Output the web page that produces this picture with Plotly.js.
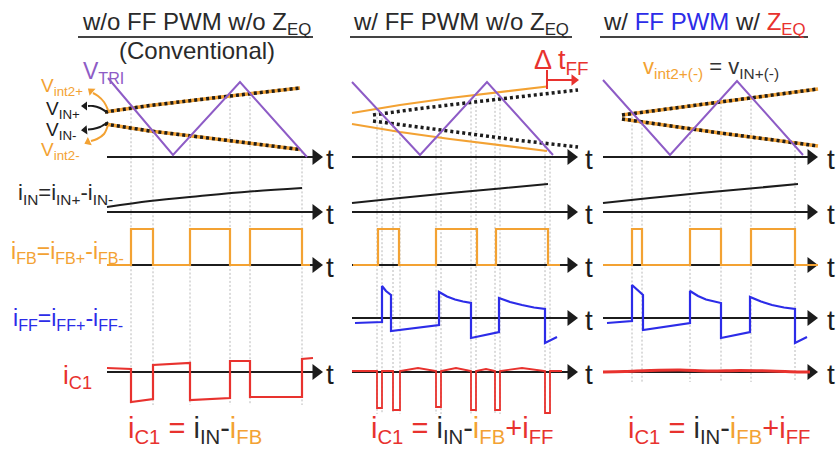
<!DOCTYPE html>
<html><head><meta charset="utf-8">
<script src="https://cdn.plot.ly/plotly-3.0.1.min.js"></script>
<style>html,body{margin:0;padding:0;background:#fff}#chart{width:840px;height:449px}</style>
</head><body><div id="chart"></div>
<script>
// ================= DATA (schematic waveforms) =================
// Panel 1 : w/o FF PWM w/o Z_EQ (Conventional)
const p1TriT  = [108, 173, 240, 307];
const p1TriV  = [78, 155, 82, 157];
const p1VinT  = [105, 150, 200, 250, 300];
const p1VinPV = [112, 105.5, 99.5, 93.5, 88];
const p1VinMV = [124, 131, 137, 143.5, 149.5];
const p1IinT  = [107, 150, 200, 250, 302];
const p1IinV  = [207, 201, 196, 191.5, 188];
const p1Edges = [131, 153, 190, 230, 250, 302];
const p1Ic1T  = [107, 131, 131, 153, 153, 190, 190, 230, 230, 250, 250, 302, 302, 313];
const p1Ic1V  = [368, 369, 402, 399, 365, 363, 400, 398, 361, 361, 397, 397, 359, 358];

// Panel 2 : w/ FF PWM w/o Z_EQ
const p2TriT   = [352, 420, 487, 553];
const p2TriV   = [82, 155, 82, 155];
const p2OrT    = [352, 400, 450, 500, 547];
const p2OrUpV  = [113, 105, 98, 92, 86.5];
const p2OrLoV  = [124, 132, 139, 145.5, 151];
const p2BkT    = [373, 420, 470, 520, 578];
const p2BkUpV  = [115, 108.5, 102.5, 96.5, 90];
const p2BkLoV  = [121, 127.5, 134, 140.5, 147];
const p2IinT   = [352, 400, 450, 500, 548];
const p2IinV   = [203, 198, 193, 188.5, 184];
const p2Edges  = [378, 399, 436, 477, 496, 548];
const p2Guides = [377, 382, 393, 400, 436, 441, 471, 476, 495, 500, 545, 550];
const p2IffT   = [355, 382, 382, 386, 391, 391, 439, 439, 447, 455, 463, 471, 471, 499, 499, 510, 522, 534, 545, 545, 557];
const p2IffV   = [323, 322, 286, 291, 295, 331, 325, 292, 296.5, 299.5, 301.5, 303, 338, 332, 298, 302, 305, 307.5, 309, 343, 337];
const p2Ic1T   = [352, 377, 377, 382, 382, 393, 393, 400, 400, 418, 436, 436, 441, 441, 456, 471, 471, 476, 476, 486, 495, 495, 500, 500, 522, 545, 545, 550, 550, 562];
const p2Ic1V   = [371, 371, 408, 408, 371, 371, 410, 410, 371, 368, 371, 407, 407, 371, 368, 371, 410, 410, 371, 369, 371, 410, 410, 371, 368, 371, 413, 413, 371, 371];

// Panel 3 : w/ FF PWM w/ Z_EQ
const p3TriT  = [603, 670, 737, 803];
const p3TriV  = [80, 155, 81, 155];
const p3VinT  = [622, 670, 720, 770, 818];
const p3VinPV = [115, 108.5, 102, 95.5, 89];
const p3VinMV = [119, 126, 133, 139.5, 146];
const p3IinT  = [603, 650, 700, 750, 798];
const p3IinV  = [203, 198, 193, 188.5, 184];
const p3Edges = [632, 642, 690, 721, 751, 795];
const p3IffT  = [607, 632, 632, 637, 643, 643, 690, 690, 698, 706, 714, 721, 721, 750, 750, 761, 772, 784, 795, 795, 807];
const p3IffV  = [323, 321, 285, 290, 295, 330, 323, 291, 296, 299.5, 301.5, 303, 338, 332, 297, 301.5, 305, 307.5, 309, 343, 337];
const p3Ic1T  = [603, 625, 650, 680, 710, 740, 770, 800, 810];
const p3Ic1V  = [372, 371.5, 370.5, 370, 371, 370.5, 371, 372, 372];

// iFB levels
const fbLow = 265, fbHigh = 229;

// ================= LAYOUT CONSTANTS =================
const FONT = 'Liberation Sans, Arial, sans-serif';
const ORANGE = '#f3a233', PURPLE = '#8e5cc6', BLUE = '#2c2ce8', RED = '#e8322e', BLACK = '#1c1c1c', GRAY = '#b8b8b8', DARK = '#2a2a2a';
const rowY = [157, 212, 265, 318, 372];
const panelAxes = [
  {x0: 107, x1: 316, rows: [0, 1, 2, 4], tX: 330},
  {x0: 352, x1: 571, rows: [0, 1, 2, 3, 4], tX: 589},
  {x0: 603, x1: 811, rows: [0, 1, 2, 3, 4], tX: 831}
];

// ================= HELPERS =================
function interp(xs, ys, x) {
  for (let i = 0; i < xs.length - 1; i++) {
    if (x >= xs[i] && x <= xs[i + 1]) return ys[i] + (ys[i + 1] - ys[i]) * (x - xs[i]) / (xs[i + 1] - xs[i]);
  }
  return x < xs[0] ? ys[0] : ys[ys.length - 1];
}
function ln(x, y, color, width, dash, shape) {
  return {type: 'scatter', mode: 'lines', x: x, y: y, hoverinfo: 'skip', showlegend: false,
          line: {color: color, width: width, dash: dash || 'solid', shape: shape || 'linear'}};
}
function pulse(edges, start, end) {
  const x = [start], y = [fbLow];
  edges.forEach((e, i) => {
    const from = i % 2 === 0 ? fbLow : fbHigh, to = i % 2 === 0 ? fbHigh : fbLow;
    x.push(e, e); y.push(from, to);
  });
  x.push(end); y.push(fbLow);
  return {x, y};
}
function guides(xs, triT, triV, bottom) {
  const X = [], Y = [];
  xs.forEach(g => { X.push(g, g, null); Y.push(interp(triT, triV, g), bottom, null); });
  return ln(X, Y, GRAY, 1, '2px,2px');
}

// ================= TRACES =================
const traces = [];
traces.push(guides(p1Edges, p1TriT, p1TriV, 405));
traces.push(guides(p2Guides, p2TriT, p2TriV, 414));
traces.push(guides(p3Edges, p3TriT, p3TriV, 382));

// axes with arrow heads
const ax = [], ay = [], hx = [], hy = [];
panelAxes.forEach(p => p.rows.forEach(r => { ax.push(p.x0, p.x1, null); ay.push(rowY[r], rowY[r], null); hx.push(p.x1); hy.push(rowY[r]); }));
traces.push(ln(ax, ay, BLACK, 2.2));
traces.push({type: 'scatter', mode: 'markers', x: hx, y: hy, hoverinfo: 'skip', showlegend: false,
             marker: {symbol: 'triangle-right', size: 14, color: BLACK}});

// VIN / Vint2 comparator thresholds
traces.push(ln(p1VinT, p1VinPV, ORANGE, 3.5));
traces.push(ln(p1VinT, p1VinMV, ORANGE, 3.5));
traces.push(ln(p1VinT, p1VinPV, BLACK, 3.5, '3px,3px'));
traces.push(ln(p1VinT, p1VinMV, BLACK, 3.5, '3px,3px'));
traces.push(ln(p2OrT, p2OrUpV, ORANGE, 2.2));
traces.push(ln(p2OrT, p2OrLoV, ORANGE, 2.2));
traces.push(ln(p2BkT, p2BkUpV, BLACK, 3.5, '3px,3px'));
traces.push(ln(p2BkT, p2BkLoV, BLACK, 3.5, '3px,3px'));
traces.push(ln(p3VinT, p3VinPV, ORANGE, 3.5));
traces.push(ln(p3VinT, p3VinMV, ORANGE, 3.5));
traces.push(ln(p3VinT, p3VinPV, BLACK, 3.5, '3px,3px'));
traces.push(ln(p3VinT, p3VinMV, BLACK, 3.5, '3px,3px'));

// triangle carriers
traces.push(ln(p1TriT, p1TriV, PURPLE, 2));
traces.push(ln(p2TriT, p2TriV, PURPLE, 2));
traces.push(ln(p3TriT, p3TriV, PURPLE, 2));

// iIN
traces.push(ln(p1IinT, p1IinV, BLACK, 2, null, 'spline'));
traces.push(ln(p2IinT, p2IinV, BLACK, 2, null, 'spline'));
traces.push(ln(p3IinT, p3IinV, BLACK, 2, null, 'spline'));

// iFB pulses
[[p1Edges, 107, 310], [p2Edges, 353, 560], [p3Edges, 603, 818]].forEach(([e, s, t]) => {
  const p = pulse(e, s, t); traces.push(ln(p.x, p.y, ORANGE, 2.2));
});

// iFF
traces.push(ln(p2IffT, p2IffV, BLUE, 2.2));
traces.push(ln(p3IffT, p3IffV, BLUE, 2.2));

// iC1
traces.push(ln(p1Ic1T, p1Ic1V, RED, 2.2));
traces.push(ln(p2Ic1T, p2Ic1V, RED, 1.8));
traces.push(ln(p3Ic1T, p3Ic1V, RED, 3, null, 'spline'));

// curved label arrows (panel 1)
traces.push(ln([108, 104, 98, 93], [110, 102, 96, 93], ORANGE, 2, null, 'spline'));
traces.push(ln([108, 100, 93, 88], [113, 108, 106, 106], BLACK, 2, null, 'spline'));
traces.push(ln([108, 100, 93, 88], [122, 127, 129, 129.5], BLACK, 2, null, 'spline'));
traces.push(ln([108, 104, 97, 91], [125, 134, 139, 141], ORANGE, 2, null, 'spline'));

// arrow heads of the label arrows and of Delta t_FF
traces.push({type: 'scatter', mode: 'markers', x: [91, 85, 85, 88], y: [91, 106, 130, 142], hoverinfo: 'skip', showlegend: false,
             marker: {symbol: 'triangle-left', size: 8, angle: [40, 0, -5, -25], color: [ORANGE, BLACK, BLACK, ORANGE]}});
traces.push(ln([547, 547, null, 547, 572], [70, 89, null, 80, 80], RED, 2));
traces.push({type: 'scatter', mode: 'markers', x: [574], y: [80], hoverinfo: 'skip', showlegend: false,
             marker: {symbol: 'triangle-right', size: 10, color: RED}});

// title underlines
traces.push(ln([78, 313, null, 350, 572, null, 600, 808], [37, 37, null, 37, 37, null, 37, 37], '#444', 2));

// ================= TEXT =================
function A(text, x, y, size, color, xanchor) {
  return {text: text, x: x, y: y, xref: 'x', yref: 'y', showarrow: false, xanchor: xanchor || 'left', yanchor: 'middle',
          font: {family: FONT, size: size, color: color}};
}
function S(c, t) { return '<span style="color:' + c + '">' + t + '</span>'; }
const annotations = [
  A('w/o FF PWM w/o Z<sub>EQ</sub>', 196, 23, 24, DARK, 'center'),
  A('(Conventional)', 197, 50, 24, DARK, 'center'),
  A('w/ FF PWM w/o Z<sub>EQ</sub>', 461, 23, 24, DARK, 'center'),
  A('w/ ' + S(BLUE, 'FF PWM') + ' w/ ' + S(RED, 'Z<sub>EQ</sub>'), 704, 23, 24, DARK, 'center'),
  A('V<sub>TRI</sub>', 81, 72, 23, PURPLE),
  A('V<sub>int2+</sub>', 39, 87, 19, ORANGE),
  A('V<sub>IN+</sub>', 44, 110, 19, BLACK),
  A('V<sub>IN-</sub>', 44, 131, 19, BLACK),
  A('V<sub>int2-</sub>', 39, 151, 19, ORANGE),
  A(S(ORANGE, 'v<sub>int2+(-)</sub>') + S('#333', ' = v<sub>IN+(-)</sub>'), 641, 68, 22, ORANGE),
  A('Δ t<sub>FF</sub>', 532, 62, 27, RED),
  A('i<sub>IN</sub>=i<sub>IN+</sub>-i<sub>IN-</sub>', 16, 194, 22, DARK),
  A('i<sub>FB</sub>=i<sub>FB+</sub>-i<sub>FB-</sub>', 9, 252, 23, ORANGE),
  A('i<sub>FF</sub>=i<sub>FF+</sub>-i<sub>FF-</sub>', 11, 319, 23, BLUE),
  A('i<sub>C1</sub>', 61, 376, 26, RED),
  A(S(RED, 'i<sub>C1</sub> = ') + S(DARK, 'i<sub>IN</sub>-') + S(ORANGE, 'i<sub>FB</sub>'), 126, 430, 29, RED),
  A(S(RED, 'i<sub>C1</sub> = ') + S(DARK, 'i<sub>IN</sub>-') + S(ORANGE, 'i<sub>FB</sub>') + S(RED, '+i<sub>FF</sub>'), 369, 430, 29, RED),
  A(S(RED, 'i<sub>C1</sub> = ') + S(DARK, 'i<sub>IN</sub>-') + S(ORANGE, 'i<sub>FB</sub>') + S(RED, '+i<sub>FF</sub>'), 626, 430, 29, RED)
];
panelAxes.forEach(p => p.rows.forEach(r => annotations.push(A('t', p.tX, rowY[r] + 2, 28, BLACK, 'center'))));

const layout = {
  width: 840, height: 449, margin: {l: 0, r: 0, t: 0, b: 0},
  paper_bgcolor: '#fff', plot_bgcolor: '#fff', showlegend: false,
  xaxis: {range: [0, 840], visible: false, fixedrange: true},
  yaxis: {range: [449, 0], visible: false, fixedrange: true},
  annotations: annotations
};
Plotly.newPlot('chart', traces, layout, {displayModeBar: false, staticPlot: true});
</script></body></html>
